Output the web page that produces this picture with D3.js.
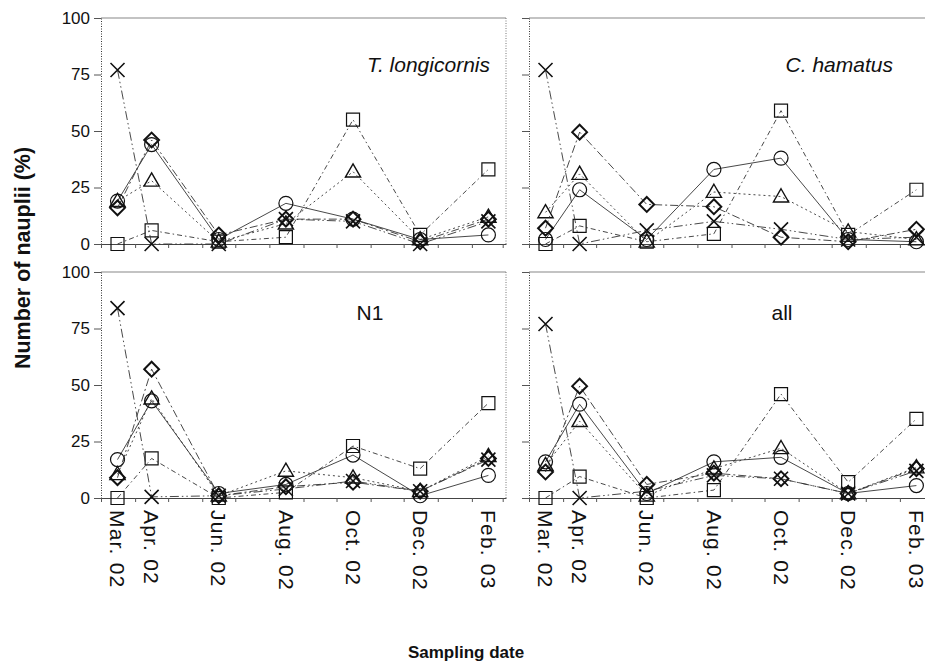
<!DOCTYPE html>
<html>
<head>
<meta charset="utf-8">
<script src="https://cdn.jsdelivr.net/npm/d3@7"></script>
<style>
  body { margin: 0; background: #fff; }
  svg { font-family: "Liberation Sans", Arial, sans-serif; }
</style>
</head>
<body>
<div id="chart"></div>
<script>
// sampling dates and labels
const dateLabels = ["Mar. 02", "Apr. 02", "Jun. 02", "Aug. 02", "Oct. 02", "Dec. 02", "Feb. 03"];
const sampleDates = ["2002-03-16", "2002-04-16", "2002-06-16", "2002-08-16", "2002-10-16", "2002-12-16", "2003-02-16"];
const yTicks = [0, 25, 50, 75, 100];
const panelTitles = ["T. longicornis", "C. hamatus", "N1", "all"];
const seriesKeys = ["circle", "triangle", "square", "diamond", "cross"];

// % of nauplii per panel, one array per symbol
const tLongicornis = {
  circle:   [19, 44, 2, 18, 11, 2, 4],
  triangle: [19, 28, 1, 9, 32, 2, 12],
  square:   [0, 6, 1, 3, 55, 4, 33],
  diamond:  [16, 46, 4, 11, 11, 1, 11],
  cross:    [77, 0, 0, 11, 10, 0, 10]
};
const cHamatus = {
  circle:   [2, 24, 2, 33, 38, 2, 1],
  triangle: [14, 31, 1, 23, 21, 5.5, 2],
  square:   [0, 8, 1, 4.5, 59, 4, 24],
  diamond:  [7, 49.5, 17.5, 16.5, 3, 1, 6.5],
  cross:    [77, 0, 6, 10, 6.5, 2, 3]
};
const n1 = {
  circle:   [17, 43, 2, 6, 19, 1, 10],
  triangle: [10.5, 44, 1, 12, 9, 3, 18.5],
  square:   [0, 17.5, 0, 2.5, 23, 13, 42],
  diamond:  [9, 57, 1, 5, 7, 3, 17.5],
  cross:    [84, 0.5, 1, 4, 7.5, 3, 17]
};
const allStages = {
  circle:   [16, 41.5, 2, 16, 18, 2, 5.5],
  triangle: [14.5, 34, 1, 13, 22, 2, 13.5],
  square:   [0, 9.5, 0, 3.5, 46, 7, 35],
  diamond:  [11.5, 49.5, 6, 11, 8.5, 2, 13],
  cross:    [77, 0, 3, 10, 8.5, 2, 12]
};
const panelData = [tLongicornis, cHamatus, n1, allStages];

const width = 925, height = 665;
const panelW = 405, panelH = 226;
const panelX = [101, 529], panelY = [18, 272];

const parse = d3.utcParse("%Y-%m-%d");
const dates = sampleDates.map(parse);

const xScale = d3.scaleUtc()
  .domain([parse("2002-03-01"), parse("2003-03-04")])
  .range([0, panelW]);
const yScale = d3.scaleLinear()
  .domain([0, 100])
  .range([panelH, 0]);

// symbol shapes
const diamondType = {
  draw(ctx, size) {
    const r = Math.sqrt(size / 2);
    ctx.moveTo(0, -r); ctx.lineTo(r, 0); ctx.lineTo(0, r); ctx.lineTo(-r, 0); ctx.closePath();
  }
};
const crossType = {
  draw(ctx, size) {
    const r = Math.sqrt(size) / 2;
    ctx.moveTo(-r, -r); ctx.lineTo(r, r);
    ctx.moveTo(r, -r); ctx.lineTo(-r, r);
  }
};
const symbolStyle = {
  circle:   { type: d3.symbolCircle,   size: 154, dash: null,            sw: 1.2 },
  triangle: { type: d3.symbolTriangle, size: 100, dash: "2,3",           sw: 1.4 },
  square:   { type: d3.symbolSquare,   size: 169, dash: "5,3,1.5,3",     sw: 1.2 },
  diamond:  { type: diamondType,       size: 110, dash: "8,3,2,3",       sw: 2 },
  cross:    { type: crossType,         size: 196, dash: "9,3,1.5,3,1.5,3", sw: 1.6 }
};

const svg = d3.select("#chart")
  .append("svg")
    .attr("width", width)
    .attr("height", height);

const line = d3.line()
  .x((d, i) => xScale(dates[i]))
  .y(d => yScale(d));

panelData.forEach((data, p) => {
  const col = p % 2, row = Math.floor(p / 2);
  const g = svg.append("g")
    .attr("transform", `translate(${panelX[col]}, ${panelY[row]})`);

  // frame: gray top, dotted right
  g.append("line")
    .attr("x1", 0).attr("x2", panelW).attr("y1", 0).attr("y2", 0)
    .attr("stroke", "#888").attr("stroke-width", 1.2);
  g.append("line")
    .attr("x1", panelW).attr("x2", panelW).attr("y1", 0).attr("y2", panelH)
    .attr("stroke", "#777").attr("stroke-dasharray", "1,1.5");

  // y axis
  const leftAxis = d3.axisLeft(yScale)
    .tickValues(yTicks)
    .tickSize(7)
    .tickSizeOuter(0)
    .tickFormat(col === 0 ? d3.format("d") : "");
  const ya = g.append("g").attr("class", "axis-y").call(leftAxis);
  ya.select(".domain").attr("stroke", "#333").attr("stroke-dasharray", "1,1.5");
  ya.selectAll(".tick line").attr("stroke", "#555");
  ya.selectAll(".tick text")
    .attr("font-size", 17).attr("fill", "#111")
    .attr("font-family", "'Liberation Sans', Arial, sans-serif")
    .attr("dx", "-1px");

  // x axis: month ticks
  const bottomAxis = d3.axisBottom(xScale)
    .ticks(d3.utcMonth.every(1))
    .tickSize(4)
    .tickSizeOuter(0)
    .tickFormat("");
  const xa = g.append("g")
    .attr("transform", `translate(0, ${panelH})`)
    .call(bottomAxis);
  xa.select(".domain").attr("stroke", "#444").attr("stroke-width", 1.2);
  xa.selectAll(".tick line").attr("stroke", "#555");

  // rotated date labels, bottom row only
  if (row === 1) {
    g.selectAll(".date-label")
      .data(dateLabels)
      .join("text")
        .attr("class", "date-label")
        .attr("transform", (d, i) => `translate(${xScale(dates[i])}, ${panelH + 12}) rotate(90)`)
        .attr("dy", "0.35em")
        .attr("font-size", 21)
        .attr("letter-spacing", "1.2px")
        .attr("fill", "#111")
        .text(d => d);
  }

  // series lines and symbols
  seriesKeys.forEach(key => {
    const st = symbolStyle[key];
    g.append("path")
      .datum(data[key])
      .attr("d", line)
      .attr("fill", "none")
      .attr("stroke", "#333")
      .attr("stroke-width", 0.9)
      .attr("stroke-dasharray", st.dash);
    g.selectAll(`.sym-${key}`)
      .data(data[key])
      .join("path")
        .attr("class", `sym-${key}`)
        .attr("transform", (d, i) => `translate(${xScale(dates[i])}, ${yScale(d)})${key === "triangle" ? " translate(0,1)" : ""}`)
        .attr("d", d3.symbol().type(st.type).size(st.size))
        .attr("fill", "none")
        .attr("stroke", "#111")
        .attr("stroke-width", st.sw);
  });

  // panel title
  const title = g.append("text")
    .attr("font-size", 21)
    .attr("fill", "#111")
    .text(panelTitles[p]);
  if (row === 0) {
    title.attr("x", col === 0 ? 389 : 364).attr("y", 54)
      .attr("text-anchor", "end").attr("font-style", "italic");
  } else {
    title.attr("x", col === 0 ? 269 : 253).attr("y", 48)
      .attr("text-anchor", "middle");
  }
});

// axis titles
svg.append("text")
  .attr("transform", "translate(30, 258) rotate(-90)")
  .attr("text-anchor", "middle")
  .attr("font-size", 21.5)
  .attr("font-weight", "bold")
  .attr("fill", "#111")
  .text("Number of nauplii (%)");

svg.append("text")
  .attr("x", 466)
  .attr("y", 658)
  .attr("text-anchor", "middle")
  .attr("font-size", 17)
  .attr("font-weight", "bold")
  .attr("fill", "#111")
  .text("Sampling date");
</script>
</body>
</html>
